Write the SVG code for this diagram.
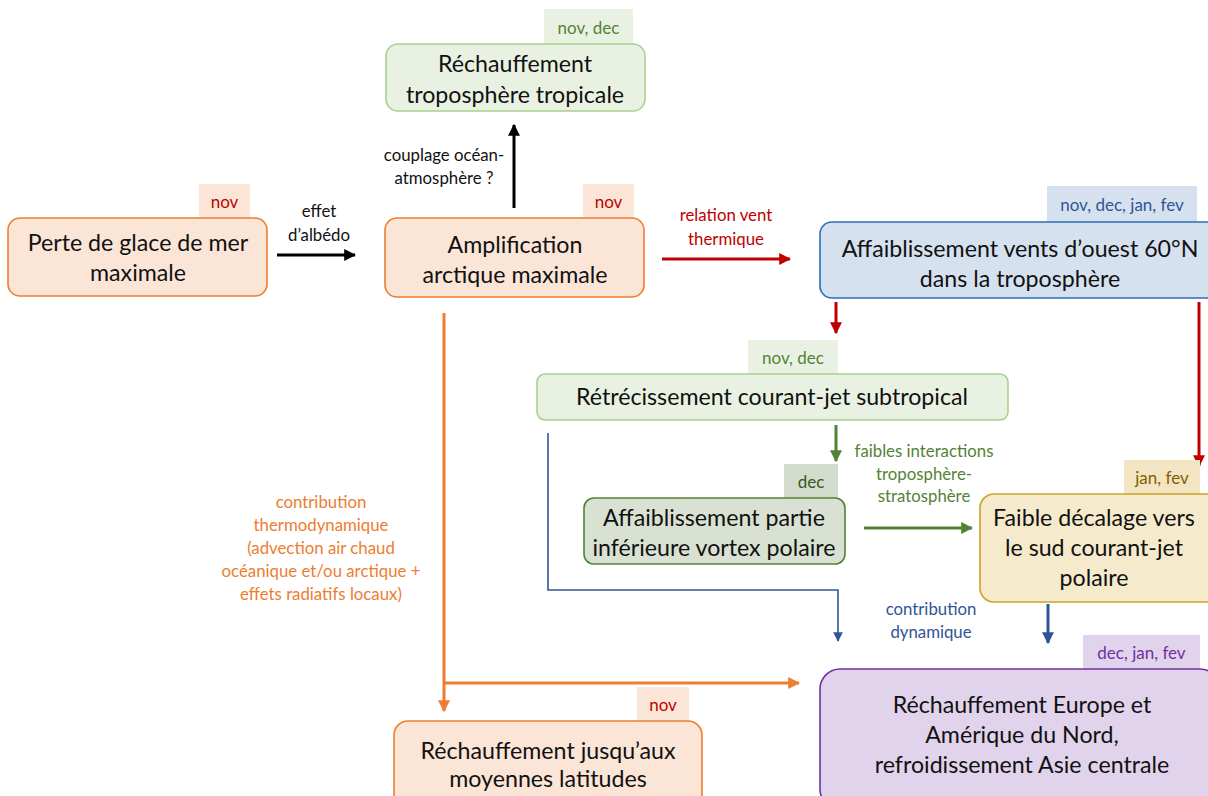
<svg xmlns="http://www.w3.org/2000/svg" width="1208" height="796" viewBox="0 0 1208 796">
<defs>
<style>
text{font-family:Lato,"Open Sans","Liberation Sans",sans-serif;text-anchor:middle}
.n{font-size:23.2px;fill:#111}
.s{font-size:16.8px}
.t{font-size:17px}
.box{stroke-width:1.6}
</style>
<marker id="ak" viewBox="0 0 10 10" refX="9" refY="5" markerWidth="4" markerHeight="4" orient="auto"><path d="M0,0L10,5L0,10z" fill="#000"/></marker>
<marker id="ar" viewBox="0 0 10 10" refX="9" refY="5" markerWidth="4" markerHeight="4" orient="auto"><path d="M0,0L10,5L0,10z" fill="#C00000"/></marker>
<marker id="ag" viewBox="0 0 10 10" refX="9" refY="5" markerWidth="4" markerHeight="4" orient="auto"><path d="M0,0L10,5L0,10z" fill="#548235"/></marker>
<marker id="ab" viewBox="0 0 10 10" refX="9" refY="5" markerWidth="4" markerHeight="4" orient="auto"><path d="M0,0L10,5L0,10z" fill="#2F5597"/></marker>
<marker id="ab2" viewBox="0 0 10 10" refX="9" refY="5" markerWidth="6" markerHeight="6" orient="auto"><path d="M0,0L10,5L0,10z" fill="#2F5597"/></marker>
<marker id="ao" viewBox="0 0 10 10" refX="9" refY="5" markerWidth="4" markerHeight="4" orient="auto"><path d="M0,0L10,5L0,10z" fill="#ED7D31"/></marker>
</defs>
<rect width="1208" height="796" fill="#fff"/>

<g id="connectors" fill="none">
<line x1="277" y1="255" x2="355" y2="255" stroke="#000" stroke-width="3" marker-end="url(#ak)"/>
<line x1="514" y1="208" x2="514" y2="125" stroke="#000" stroke-width="3" marker-end="url(#ak)"/>
<line x1="662" y1="259" x2="790" y2="259" stroke="#C00000" stroke-width="3" marker-end="url(#ar)"/>
<line x1="836" y1="302" x2="836" y2="333" stroke="#C00000" stroke-width="3" marker-end="url(#ar)"/>
<line x1="1199" y1="302" x2="1199" y2="466" stroke="#C00000" stroke-width="3" marker-end="url(#ar)"/>
<line x1="836" y1="425" x2="836" y2="461" stroke="#548235" stroke-width="3" marker-end="url(#ag)"/>
<line x1="864" y1="528" x2="972" y2="528" stroke="#548235" stroke-width="3" marker-end="url(#ag)"/>
<polyline points="548,433 548,590 838,590 838,641" stroke="#2F5597" stroke-width="1.6" marker-end="url(#ab2)"/>
<line x1="1048" y1="604" x2="1048" y2="643" stroke="#2F5597" stroke-width="3" marker-end="url(#ab)"/>
<line x1="444" y1="313" x2="444" y2="711" stroke="#ED7D31" stroke-width="3" marker-end="url(#ao)"/>
<line x1="444" y1="683" x2="799" y2="683" stroke="#ED7D31" stroke-width="3" marker-end="url(#ao)"/>
<g class="s">
<text x="319" y="217" fill="#111">effet</text>
<text x="319" y="241" fill="#111">d’albédo</text>
<text x="444" y="161" fill="#111">couplage océan-</text>
<text x="444" y="184" fill="#111">atmosphère ?</text>
<text x="726" y="221" fill="#C00000">relation vent</text>
<text x="726" y="245" fill="#C00000">thermique</text>
<text x="924" y="457" fill="#548235">faibles interactions</text>
<text x="924" y="480" fill="#548235">troposphère-</text>
<text x="924" y="502" fill="#548235">stratosphère</text>
<text x="931" y="615" fill="#2F5597">contribution</text>
<text x="931" y="638" fill="#2F5597">dynamique</text>
<text x="321" y="508" fill="#ED7D31">contribution</text>
<text x="321" y="531" fill="#ED7D31">thermodynamique</text>
<text x="321" y="554" fill="#ED7D31">(advection air chaud</text>
<text x="321" y="577" fill="#ED7D31">océanique et/ou arctique +</text>
<text x="321" y="600" fill="#ED7D31">effets radiatifs locaux)</text>
</g>
</g>

<g id="n1">
<rect x="199" y="184" width="51" height="34" fill="#FBE5D6"/>
<text class="t" x="224.5" y="208" fill="#C00000">nov</text>
<rect class="box" x="8" y="218" width="259" height="78" rx="12" fill="#FBE5D6" stroke="#ED7D31"/>
<text class="n" x="138" y="251">Perte de glace de mer</text>
<text class="n" x="138" y="281">maximale</text>
</g>

<g id="n2">
<rect x="583" y="184" width="51" height="34" fill="#FBE5D6"/>
<text class="t" x="608.5" y="208" fill="#C00000">nov</text>
<rect class="box" x="385" y="218" width="259" height="79" rx="12" fill="#FBE5D6" stroke="#ED7D31"/>
<text class="n" x="515" y="253">Amplification</text>
<text class="n" x="515" y="283">arctique maximale</text>
</g>

<g id="n3">
<rect x="544" y="9" width="89" height="35" fill="#E9F2E2"/>
<text class="t" x="588.5" y="34" fill="#548235">nov, dec</text>
<rect class="box" x="386" y="44" width="259" height="67" rx="12" fill="#E9F2E2" stroke="#A9D18E"/>
<text class="n" x="515" y="72">Réchauffement</text>
<text class="n" x="515" y="103">troposphère tropicale</text>
</g>

<g id="n4">
<rect x="1047" y="186" width="150" height="36" fill="#D6E1F0"/>
<text class="t" x="1122" y="211" fill="#2F5597">nov, dec, jan, fev</text>
<rect class="box" x="820" y="222" width="400" height="76" rx="12" fill="#D6E1F0" stroke="#2E6DB4"/>
<text class="n" x="1020" y="257">Affaiblissement vents d’ouest 60°N</text>
<text class="n" x="1020" y="287">dans la troposphère</text>
</g>

<g id="n5">
<rect x="748" y="340" width="90" height="34" fill="#E9F2E2"/>
<text class="t" x="793" y="364" fill="#548235">nov, dec</text>
<rect class="box" x="537" y="374" width="471" height="46" rx="8" fill="#E9F2E2" stroke="#A9D18E"/>
<text class="n" x="772" y="405">Rétrécissement courant-jet subtropical</text>
</g>

<g id="n6">
<rect x="784" y="464" width="54" height="34" fill="#D3DBCD"/>
<text class="t" x="811" y="488" fill="#385723">dec</text>
<rect class="box" x="584" y="498" width="261" height="66" rx="10" fill="#D9E1D3" stroke="#548235"/>
<text class="n" x="714" y="526">Affaiblissement partie</text>
<text class="n" x="714" y="556">inférieure vortex polaire</text>
</g>

<g id="n7">
<rect x="1124" y="460" width="76" height="34" fill="#F3E5C3"/>
<text class="t" x="1162" y="484" fill="#7F6000">jan, fev</text>
<rect class="box" x="980" y="494" width="240" height="108" rx="14" fill="#F5EACB" stroke="#C9A227"/>
<text class="n" x="1094" y="526">Faible décalage vers</text>
<text class="n" x="1094" y="556">le sud courant-jet</text>
<text class="n" x="1094" y="586">polaire</text>
</g>

<g id="n8">
<rect x="1083" y="635" width="117" height="34" fill="#E2D3EC"/>
<text class="t" x="1141.5" y="659" fill="#7030A0">dec, jan, fev</text>
<rect class="box" x="820" y="669" width="400" height="140" rx="20" fill="#E2D3EC" stroke="#7030A0"/>
<text class="n" x="1022" y="713">Réchauffement Europe et</text>
<text class="n" x="1022" y="743">Amérique du Nord,</text>
<text class="n" x="1022" y="773">refroidissement Asie centrale</text>
</g>

<g id="n9">
<rect x="637" y="687" width="52" height="34" fill="#FBE5D6"/>
<text class="t" x="663" y="711" fill="#C00000">nov</text>
<rect class="box" x="394" y="721" width="308" height="90" rx="14" fill="#FBE5D6" stroke="#ED7D31"/>
<text class="n" x="548" y="759">Réchauffement jusqu’aux</text>
<text class="n" x="548" y="787">moyennes latitudes</text>
</g>
</svg>
